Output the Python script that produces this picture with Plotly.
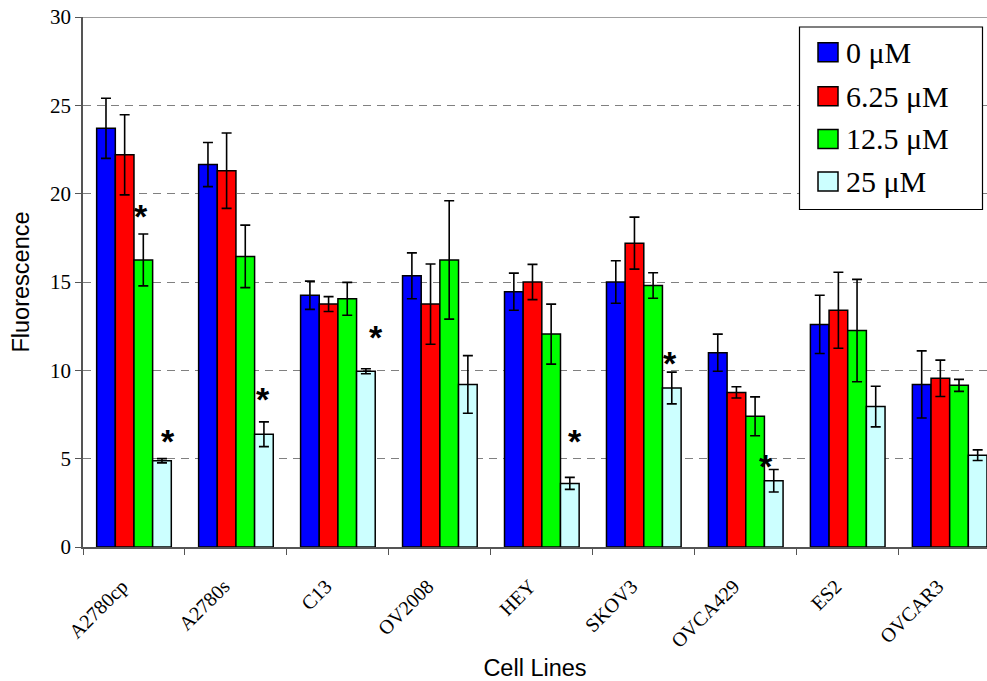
import plotly.graph_objects as go

# ---- data ----
categories = ["A2780cp", "A2780s", "C13", "OV2008", "HEY", "SKOV3", "OVCA429", "ES2", "OVCAR3"]
series_names = ["0 μM", "6.25 μM", "12.5 μM", "25 μM"]
conc_0 = [23.7, 21.65, 14.25, 15.35, 14.45, 15.0, 11.0, 12.6, 9.2]
err_0 = [1.7, 1.25, 0.8, 1.3, 1.05, 1.2, 1.05, 1.65, 1.9]
conc_6 = [22.2, 21.3, 13.75, 13.75, 15.0, 17.2, 8.75, 13.4, 9.55]
err_6 = [2.27, 2.13, 0.42, 2.27, 1.0, 1.47, 0.32, 2.15, 1.03]
conc_12 = [16.25, 16.45, 14.05, 16.25, 12.05, 14.8, 7.4, 12.25, 9.15]
err_12 = [1.47, 1.77, 0.93, 3.35, 1.7, 0.72, 1.1, 2.9, 0.34]
conc_25 = [4.88, 6.38, 9.95, 9.2, 3.6, 9.0, 3.75, 7.95, 5.2]
err_25 = [0.12, 0.7, 0.14, 1.63, 0.34, 0.9, 0.64, 1.15, 0.3]

star_cats = ["A2780cp", "A2780cp", "A2780s", "C13", "HEY", "SKOV3", "OVCA429"]
star_series = [2, 3, 3, 3, 3, 3, 3]
star_y = [19.0, 6.26, 8.68, 12.17, 6.26, 10.7, 4.87]
y_ticks = [0, 5, 10, 15, 20, 25, 30]

# ---- style ----
colors = ["#0000FF", "#FF0000", "#00FF00", "#CCFFFF"]
star_nudge_px = [-2, 6, -1, 10, 5, -2, -8]
BARGAP = 0.268
X_MAX = 8.366
W, H = 987, 681
ML, MR, MT, MB = 83, 0, 17, 134
PW = W - ML - MR
PH = H - MT - MB
SERIF = "Liberation Serif, Times New Roman, serif"
SANS = "Liberation Sans, Arial, sans-serif"

values = [conc_0, conc_6, conc_12, conc_25]
errors = [err_0, err_6, err_12, err_25]

fig = go.Figure()
for name, vals, errs, col in zip(series_names, values, errors, colors):
    fig.add_trace(go.Bar(
        x=categories, y=vals, name=name,
        marker=dict(color=col, line=dict(color="#000000", width=1.5)),
        error_y=dict(type="data", array=errs, visible=True, color="#000000",
                     thickness=1.6, width=5),
        showlegend=False,
    ))

# stars on an overlaid numeric axis aligned with category positions
n_series = len(series_names)
bar_w = (1 - BARGAP) / n_series
star_x = [categories.index(c) + (s - (n_series - 1) / 2) * bar_w for c, s in zip(star_cats, star_series)]
for sx, sy, nud in zip(star_x, star_y, star_nudge_px):
    fig.add_annotation(x=sx, y=sy, xref="x2", yref="y", text="<b>*</b>", showarrow=False,
                       font=dict(family=SANS, size=34, color="#000000"),
                       xanchor="center", yanchor="middle", xshift=nud, yshift=-5)

fig.add_trace(go.Scatter(x=[None], y=[None], xaxis="x2", showlegend=False))

fig.update_layout(
    width=W, height=H,
    margin=dict(l=ML, r=MR, t=MT, b=MB, pad=0, autoexpand=False),
    paper_bgcolor="#FFFFFF", plot_bgcolor="#FFFFFF",
    barmode="group", bargap=BARGAP, bargroupgap=0,
    showlegend=False,
    xaxis=dict(
        type="category", range=[-0.5, X_MAX], tickson="boundaries",
        ticks="outside", ticklen=6, tickcolor="#555555", tickwidth=1,
        tickangle=-45, tickfont=dict(family=SERIF, size=20, color="#000000"),
        ticklabelstandoff=18, ticklabelshift=-12,
        showline=True, linecolor="#555555", linewidth=1.5,
        showgrid=False, zeroline=False, automargin=False,
        title=dict(text="Cell Lines", font=dict(family=SANS, size=23.5, color="#000000"), standoff=12),
    ),
    xaxis2=dict(overlaying="x", range=[-0.5, X_MAX], visible=False),
    yaxis=dict(
        range=[0, 30], tickvals=y_ticks, ticks="outside", ticklen=6,
        tickcolor="#555555", tickwidth=1,
        tickfont=dict(family=SERIF, size=21, color="#000000"),
        showline=True, linecolor="#555555", linewidth=1.5,
        showgrid=True, gridcolor="#808080", gridwidth=1.2, griddash="8px,6px",
        zeroline=False, automargin=False,
        title=dict(text="Fluorescence", font=dict(family=SANS, size=23.5, color="#000000"), standoff=14),
    ),
)

# solid top border line at 30
fig.add_shape(type="line", xref="paper", yref="y", x0=0, x1=1, y0=30, y1=30,
              line=dict(color="#808080", width=1.5))

# manual legend (px -> paper helpers)
def px_x(px):
    return (px - ML) / PW

def px_y(py):
    return (H - MB - py) / PH

fig.add_shape(type="rect", xref="paper", yref="paper",
              x0=px_x(799.5), x1=px_x(982.5), y0=px_y(209.5), y1=px_y(27),
              line=dict(color="#000000", width=1.2), fillcolor="#FFFFFF", layer="above")
row_y = [52.2, 96.2, 139.0, 181.5]
for name, col, ry in zip(series_names, colors, row_y):
    fig.add_shape(type="rect", xref="paper", yref="paper",
                  x0=px_x(818), x1=px_x(838), y0=px_y(ry + 9.5), y1=px_y(ry - 9.5),
                  line=dict(color="#000000", width=1.5), fillcolor=col, layer="above")
    fig.add_annotation(x=px_x(844), y=px_y(ry), xref="paper", yref="paper", text=name,
                       showarrow=False, xanchor="left", yanchor="middle",
                       font=dict(family=SERIF, size=30, color="#000000"))

fig.write_html("out.html", config={"displayModeBar": False},
               post_script="document.body.style.margin='0px';document.body.style.overflow='hidden';")
